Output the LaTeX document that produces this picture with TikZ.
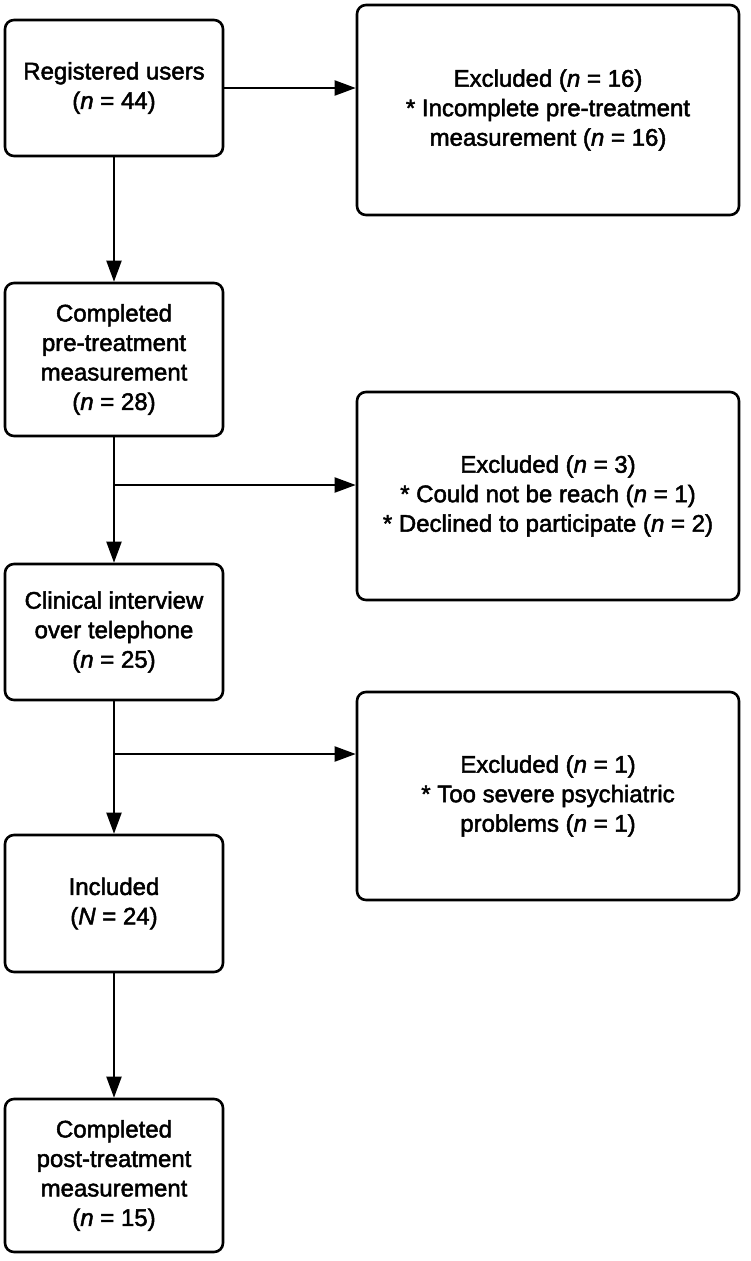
\documentclass[tikz,border=0pt]{standalone}
\usepackage{fontspec}
\setmainfont{Liberation Sans}[FakeBold=2]
\usetikzlibrary{arrows.meta}
\begin{document}
\begin{tikzpicture}[x=1pt,y=-1pt,
  box/.style={draw, line width=2.6pt, rounded corners=9pt, align=center, inner sep=0pt,
    font=\fontsize{24}{29.5}\selectfont},
  lbox/.style={box, minimum width=218pt},
  rbox/.style={box, minimum width=382pt, minimum height=208pt},
  conn/.style={line width=2pt, -{Triangle[length=21pt,width=15pt]}}]
\useasboundingbox (0,0) rectangle (750,1261);
\node[lbox, minimum height=136pt] (b1) at (114,88) {Registered users\\(\textit{n} = 44)};
\node[lbox, minimum height=153pt] (b2) at (114,359.5) {Completed\\pre-treatment\\measurement\\(\textit{n} = 28)};
\node[lbox, minimum height=136pt] (b3) at (114,632) {Clinical interview\\over telephone\\(\textit{n} = 25)};
\node[lbox, minimum height=137pt] (b4) at (114,903.5) {Included\\(\textit{N} = 24)};
\node[lbox, minimum height=153pt] (b5) at (114,1175.5) {Completed\\post-treatment\\measurement\\(\textit{n} = 15)};
\node[rbox, minimum height=210pt] (r1) at (548,110) {Excluded (\textit{n} = 16)\\* Incomplete pre-treatment\\measurement (\textit{n} = 16)};
\node[rbox] (r2) at (548,496) {Excluded (\textit{n} = 3)\\* Could not be reach (\textit{n} = 1)\\* Declined to participate (\textit{n} = 2)};
\node[rbox] (r3) at (548,796) {Excluded (\textit{n} = 1)\\* Too severe psychiatric\\problems (\textit{n} = 1)};
\coordinate (j2) at (114,485);
\coordinate (j3) at (114,754);
\draw[conn] (b1.east) -- (b1.east -| r1.west);
\draw[conn] (b1) -- (b2);
\draw[conn] (b2) -- (b3);
\draw[conn] (j2) -- (j2 -| r2.west);
\draw[conn] (b3) -- (b4);
\draw[conn] (j3) -- (j3 -| r3.west);
\draw[conn] (b4) -- (b5);
\end{tikzpicture}
\end{document}
